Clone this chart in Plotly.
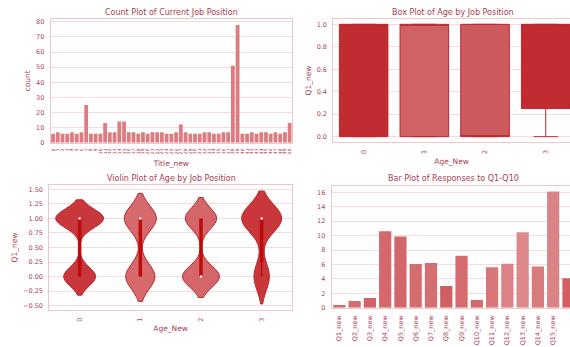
import numpy as np
import plotly.graph_objects as go

W, H = 570, 347

# ---------------- data ----------------
# Count plot of current job position (categories 0..50)
title_codes = [str(i) for i in range(51)]
title_counts = [6, 7, 6, 6, 7, 6, 7, 25, 6, 6,
                6, 13, 7, 7, 14, 14, 7, 7, 6, 7,
                6, 7, 7, 7, 6, 6, 7, 12, 7, 6,
                6, 6, 7, 7, 6, 6, 7, 7, 51, 78,
                6, 6, 7, 6, 7, 7, 6, 7, 6, 7, 13]

# Q1_new (0/1) by Age_New group
age_groups = [0, 1, 2, 3]
q1_zero_counts = [10, 10, 13, 5]
q1_one_counts = [15, 11, 11, 13]

# Bar plot of responses
questions = ["Q1_new", "Q2_new", "Q3_new", "Q4_new", "Q5_new", "Q6_new", "Q7_new", "Q8_new",
             "Q9_new", "Q10_new", "Q11_new", "Q12_new", "Q13_new", "Q14_new", "Q15_new", "Q16_new"]
responses = [0.37, 0.93, 1.34, 10.6, 9.86, 6.06, 6.2, 3.0,
             7.2, 1.06, 5.6, 6.1, 10.46, 5.7, 16.1, 4.07]

# ---------------- styles ----------------
FONT = "DejaVu Sans"
TXT = "#a83c50"
TICK = "#ad4458"
GRID = "#f6dadd"
FRAME = "#f0c6cb"
bar_color = "#de7b81"
box_fill = ["#c22b30", "#d06164", "#cd5a5d", "#c22b30"]
box_line = "#b8282d"
vio_fill = ["#c8373b", "#d5696c", "#d46568", "#c9373a"]
vio_line = "#b5262b"
vio_bw = [0.16, 0.215, 0.18, 0.235]
vio_width = [0.79, 0.53, 0.61, 0.66]
inner_col = "#bf0a0a"
resp_colors = ["#d46b6e", "#d56c6f", "#d26467", "#d4686b", "#d36669", "#d56d70", "#d56e71", "#d05f63",
               "#d56b6e", "#d4696c", "#d87679", "#dc8185", "#de888b", "#d97a7d", "#dc8387", "#d25f63"]

def px_x(a, b):
    return [a / W, b / W]

def px_y(top, bottom):
    return [1 - bottom / H, 1 - top / H]

fig = go.Figure()

# top-left: count plot
fig.add_trace(go.Bar(x=list(range(len(title_counts))), y=title_counts, marker_color=bar_color,
                     marker_line_width=0, width=0.8, xaxis="x", yaxis="y", showlegend=False))

# samples per age group
samples = []
for z, o in zip(q1_zero_counts, q1_one_counts):
    samples.append(np.array([0.0] * z + [1.0] * o))

# top-right: box plot
for i, (g, s) in enumerate(zip(age_groups, samples)):
    q1, med, q3 = np.percentile(s, [25, 50, 75])
    iqr = q3 - q1
    lo = s[s >= q1 - 1.5 * iqr].min()
    hi = s[s <= q3 + 1.5 * iqr].max()
    fig.add_trace(go.Box(x=[g], q1=[q1], median=[med], q3=[q3], lowerfence=[lo], upperfence=[hi],
                         width=0.8, whiskerwidth=0.5, fillcolor=box_fill[i],
                         line=dict(color=box_line, width=1), boxpoints=False,
                         xaxis="x2", yaxis="y2", showlegend=False))

# bottom-left: violin plot
for i, (g, s) in enumerate(zip(age_groups, samples)):
    fig.add_trace(go.Violin(x=[g] * len(s), y=s, bandwidth=vio_bw[i], spanmode="soft",
                            width=vio_width[i], scalemode="width", fillcolor=vio_fill[i],
                            line=dict(color=vio_line, width=1), points=False,
                            box_visible=False, meanline_visible=False, opacity=1,
                            xaxis="x3", yaxis="y3", showlegend=False))
    q1, med, q3 = np.percentile(s, [25, 50, 75])
    iqr = q3 - q1
    lo = s[s >= q1 - 1.5 * iqr].min()
    hi = s[s <= q3 + 1.5 * iqr].max()
    fig.add_trace(go.Scatter(x=[g, g], y=[lo, hi], mode="lines", line=dict(color=inner_col, width=1.5),
                             xaxis="x3", yaxis="y3", showlegend=False, hoverinfo="skip"))
    fig.add_trace(go.Scatter(x=[g, g], y=[q1, q3], mode="lines", line=dict(color=inner_col, width=3.5),
                             xaxis="x3", yaxis="y3", showlegend=False, hoverinfo="skip"))
    fig.add_trace(go.Scatter(x=[g], y=[med], mode="markers", marker=dict(color="white", size=2.5),
                             xaxis="x3", yaxis="y3", showlegend=False, hoverinfo="skip"))

# bottom-right: bar plot of responses
fig.add_trace(go.Bar(x=list(range(len(responses))), y=responses, marker_color=resp_colors,
                     marker_line_width=0, width=0.8, xaxis="x4", yaxis="y4", showlegend=False))

common_x = dict(showgrid=False, zeroline=False, showline=True, linecolor=FRAME, linewidth=1,
                ticks="", tickangle=-90, tickfont=dict(family=FONT, size=6.5, color=TICK),
                automargin=False, fixedrange=True, ticklabelstandoff=4)
common_y = dict(showgrid=True, gridcolor=GRID, gridwidth=1, zeroline=False, showline=True,
                linecolor=FRAME, linewidth=1, ticks="", tickfont=dict(family=FONT, size=6.5, color=TICK),
                automargin=False, fixedrange=True, ticklabelstandoff=4)

def axtitle(t, st):
    return dict(text=t, font=dict(family=FONT, size=7.5, color=TXT), standoff=st)

fig.update_layout(
    width=W, height=H, margin=dict(l=0, r=0, t=0, b=0),
    paper_bgcolor="white", plot_bgcolor="white",
    boxmode="overlay", violinmode="overlay", bargap=0.2,
    xaxis=dict(common_x, domain=px_x(50.7, 292), range=[-0.5, 50.5],
               tickvals=list(range(len(title_codes))), ticktext=title_codes,
               tickfont=dict(family=FONT, size=4.5, color=TICK), mirror=True, ticklabelstandoff=3,
               title=axtitle("Title_new", 7), anchor="y"),
    yaxis=dict(common_y, domain=px_y(19, 142.7), range=[0, 81.9], dtick=10, mirror=True,
               title=axtitle("count", 4), anchor="x"),
    xaxis2=dict(common_x, domain=px_x(333.3, 570), range=[-0.5, 3.4], tickvals=age_groups,
                ticktext=[str(a) for a in age_groups], mirror=True,
                title=axtitle("Age_New", 5), anchor="y2"),
    yaxis2=dict(common_y, domain=px_y(18.7, 142.3), range=[-0.05, 1.05], dtick=0.2, tickformat=".1f",
                title=axtitle("Q1_new", 4), anchor="x2"),
    xaxis3=dict(common_x, domain=px_x(49.3, 292), range=[-0.5, 3.5], tickvals=age_groups,
                ticktext=[str(a) for a in age_groups], mirror=True,
                title=axtitle("Age_New", 5), anchor="y3"),
    yaxis3=dict(common_y, domain=px_y(185.1, 309.9), range=[-0.5725, 1.5725], dtick=0.25,
                tickformat=".2f", mirror=True, title=axtitle("Q1_new", 4), anchor="x3"),
    xaxis4=dict(common_x, domain=px_x(331.7, 570), range=[-0.5, 15.1],
                tickvals=list(range(len(questions))), ticktext=questions, mirror=True,
                anchor="y4"),
    yaxis4=dict(common_y, domain=px_y(185.8, 307.7), range=[0, 16.9], dtick=2, anchor="x4"),
)

titles = [("Count Plot of Current Job Position", 171.5, 12),
          ("Box Plot of Age by Job Position", 453, 12),
          ("Violin Plot of Age by Job Position", 171.5, 178.5),
          ("Bar Plot of Responses to Q1-Q10", 453, 178.5)]
for t, x, y in titles:
    fig.add_annotation(text=t, x=x / W, y=1 - y / H, xref="paper", yref="paper",
                       xanchor="center", yanchor="middle", showarrow=False,
                       font=dict(family=FONT, size=8, color=TXT))

fig.write_html("out.html", config={"displayModeBar": False})
